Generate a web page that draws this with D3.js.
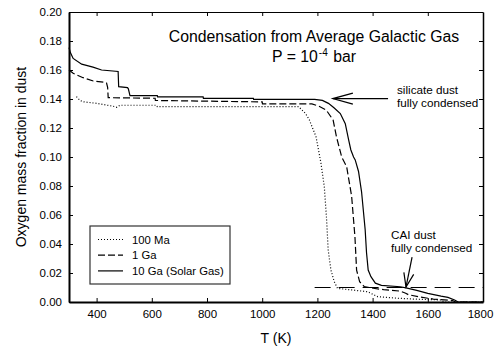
<!DOCTYPE html>
<html>
<head>
<meta charset="utf-8">
<script src="https://cdn.jsdelivr.net/npm/d3@7"></script>
<style>
  body { margin: 0; background: #fff; }
  svg { display: block; font-family: Arial, "Liberation Sans", sans-serif; }
  .axis path, .axis line { stroke: #000; }
  .axis text { font-size: 11.5px; fill: #000; }
</style>
</head>
<body>
<svg width="494" height="350"></svg>
<script>
// ====================== DATA ======================
// 10 Ga (Solar Gas) -- solid
const solarT = [300, 305, 315, 346, 387, 418, 478, 480, 512, 515, 521, 620, 621, 786, 787, 968, 969,
  1190, 1218, 1240, 1260, 1283, 1301, 1313, 1321, 1331, 1337, 1349, 1360, 1373, 1378, 1384, 1394,
  1410, 1432, 1500, 1521, 1560, 1600, 1648, 1673, 1697, 1710, 1800];
const solarO = [0.1754, 0.172, 0.168, 0.164, 0.162, 0.160, 0.159, 0.1485, 0.1478, 0.147, 0.1423, 0.1423, 0.1415, 0.1415, 0.1405, 0.1405, 0.1398,
  0.1398, 0.139, 0.137, 0.134, 0.130, 0.123, 0.112, 0.105, 0.100, 0.098, 0.090, 0.076, 0.050, 0.034, 0.022, 0.0175,
  0.013, 0.0115, 0.0105, 0.0097, 0.008, 0.006, 0.004, 0.0032, 0.0014, 0, 0];

// 1 Ga -- dashed
const gaT = [300, 315, 351, 388, 430, 436, 440, 442, 612, 613, 1000, 1001, 1180, 1206, 1232, 1257,
  1269, 1288, 1306, 1324, 1336, 1342, 1353, 1370, 1402, 1440, 1500, 1520, 1530, 1570, 1620, 1690, 1700, 1800];
const gaO = [0.160, 0.1577, 0.1547, 0.1524, 0.1515, 0.151, 0.148, 0.1409, 0.1405, 0.139, 0.138, 0.1366, 0.1366, 0.135, 0.1324, 0.1255,
  0.114, 0.100, 0.0933, 0.073, 0.045, 0.022, 0.014, 0.0106, 0.0095, 0.0085, 0.0075, 0.006, 0.005, 0.0035, 0.002, 0.001, 0, 0];

// 100 Ma -- dotted
const maT = [327, 340, 351, 400, 460, 473, 485, 618, 620, 1132, 1157, 1171, 1195, 1213, 1225, 1233,
  1239, 1249, 1261, 1273, 1325, 1382, 1418, 1491, 1550, 1648, 1660, 1800];
const maO = [0.1416, 0.139, 0.1381, 0.137, 0.135, 0.1343, 0.1357, 0.1357, 0.1347, 0.1347, 0.130, 0.1255, 0.114, 0.0957, 0.0795, 0.058,
  0.036, 0.022, 0.014, 0.0094, 0.0083, 0.0071, 0.0037, 0.0026, 0.002, 0.0014, 0, 0];

const seriesNames = ["100 Ma", "1 Ga", "10 Ga (Solar Gas)"];
const xTicks = [400, 600, 800, 1000, 1200, 1400, 1600, 1800];
const yTicks = [0, 0.02, 0.04, 0.06, 0.08, 0.10, 0.12, 0.14, 0.16, 0.18, 0.20];
const caiLevel = 0.01;   // horizontal reference line
// ========================================================================

const svg = d3.select("svg");
const margin = { left: 69, top: 12, right: 11, bottom: 48 };
const W = 494, H = 350;
const x0 = margin.left, x1 = W - margin.right, y0 = H - margin.bottom, y1 = margin.top;

const x = d3.scaleLinear().domain([300, 1800]).range([x0, x1]);
const y = d3.scaleLinear().domain([0, 0.20]).range([y0, y1]);

// ---- axes (ticks point inward on all four sides)
svg.append("g").attr("class", "axis")
  .attr("transform", `translate(0,${y0})`)
  .call(d3.axisBottom(x).tickValues(xTicks).tickSizeInner(-4).tickSizeOuter(0).tickPadding(8).tickFormat(d3.format("d")))
  .call(g => g.select(".domain").attr("stroke-width", 2))
  .call(g => g.selectAll(".tick text").filter(d => d === 1800).attr("dx", -3));

svg.append("g").attr("class", "axis")
  .attr("transform", `translate(0,${y1})`)
  .call(d3.axisTop(x).tickValues(xTicks.slice(0, -1)).tickSizeInner(-4).tickSizeOuter(0).tickFormat(""));

svg.append("g").attr("class", "axis")
  .attr("transform", `translate(${x0},0)`)
  .call(d3.axisLeft(y).tickValues(yTicks).tickSizeInner(-4).tickSizeOuter(0).tickPadding(7).tickFormat(d3.format(".2f")))
  .call(g => g.select(".domain").attr("stroke-width", 2));

svg.append("g").attr("class", "axis")
  .attr("transform", `translate(${x1},0)`)
  .call(d3.axisRight(y).tickValues(yTicks.slice(1, -1)).tickSizeInner(-4).tickSizeOuter(0).tickFormat(""))
  .call(g => g.select(".domain").attr("stroke-width", 1.5));

// ---- axis titles
svg.append("text")
  .attr("x", (x0 + x1) / 2).attr("y", 343)
  .attr("text-anchor", "middle").attr("font-size", 14)
  .text("T (K)");

svg.append("text")
  .attr("transform", `translate(26,${(y0 + y1) / 2}) rotate(-90)`)
  .attr("text-anchor", "middle").attr("font-size", 14)
  .text("Oxygen mass fraction in dust");

// ---- title
svg.append("text")
  .attr("x", 314).attr("y", 41.5)
  .attr("text-anchor", "middle").attr("font-size", 15.8)
  .text("Condensation from Average Galactic Gas");

const pLine = svg.append("text")
  .attr("x", 314).attr("y", 62)
  .attr("text-anchor", "middle").attr("font-size", 15.8);
pLine.append("tspan").text("P = 10");
pLine.append("tspan").attr("dy", -6).attr("dx", 1).attr("font-size", 10).text("-4");
pLine.append("tspan").attr("dy", 6).attr("dx", 1).text(" bar");

// ---- curves
const line = d3.line().x(d => x(d[0])).y(d => y(d[1]));
const styles = [
  { T: maT, O: maO, dash: "1,2" },
  { T: gaT, O: gaO, dash: "7,3" },
  { T: solarT, O: solarO, dash: null }
];

const plot = svg.append("g");
styles.forEach(s => {
  plot.append("path")
    .datum(d3.zip(s.T, s.O))
    .attr("d", line)
    .attr("fill", "none")
    .attr("stroke", "#000")
    .attr("stroke-width", 1.2)
    .attr("stroke-dasharray", s.dash);
});

// CAI reference line
plot.append("line")
  .attr("x1", x(1190)).attr("x2", x(1800))
  .attr("y1", y(caiLevel)).attr("y2", y(caiLevel))
  .attr("stroke", "#000").attr("stroke-width", 1)
  .attr("stroke-dasharray", "16,8");

// ---- annotations
function arrow(tip, tail, headLen, headW) {
  const tx = x(tip[0]), ty = y(tip[1]), sx = x(tail[0]), sy = y(tail[1]);
  const a = Math.atan2(sy - ty, sx - tx);
  const hx = Math.cos(a), hy = Math.sin(a);
  const bx = tx + hx * headLen, by = ty + hy * headLen;
  const g = svg.append("g").attr("stroke", "#000").attr("fill", "none").attr("stroke-width", 1.2);
  g.append("line").attr("x1", sx).attr("y1", sy).attr("x2", tx).attr("y2", ty);
  g.append("path").attr("d",
    `M${bx - hy * headW},${by + hx * headW}L${tx},${ty}L${bx + hy * headW},${by - hx * headW}`);
}

arrow([1256, 0.1403], [1456, 0.1403], 20, 5.5);
arrow([1521, 0.0103], [1543, 0.031], 14, 5);

const note = (tx, ty, lines) => {
  const t = svg.append("text").attr("font-size", 11.7);
  lines.forEach((s, i) => t.append("tspan").attr("x", tx).attr("y", ty + i * 13).text(s));
};
note(397, 94, ["silicate dust", "fully condensed"]);
note(391, 238.5, ["CAI dust", "fully condensed"]);

// ---- legend
const lg = svg.append("g").attr("transform", "translate(90,226)");
lg.append("rect").attr("width", 140).attr("height", 58)
  .attr("fill", "#fff").attr("stroke", "#333").attr("stroke-width", 1.2);
styles.forEach((s, i) => {
  const ry = 13.5 + i * 15.7;
  lg.append("line").attr("x1", 8).attr("x2", 33).attr("y1", ry).attr("y2", ry)
    .attr("stroke", "#000").attr("stroke-width", 1.2).attr("stroke-dasharray", s.dash);
  lg.append("text").attr("x", 42).attr("y", ry + 4).attr("font-size", 11.3).text(seriesNames[i]);
});
</script>
</body>
</html>
